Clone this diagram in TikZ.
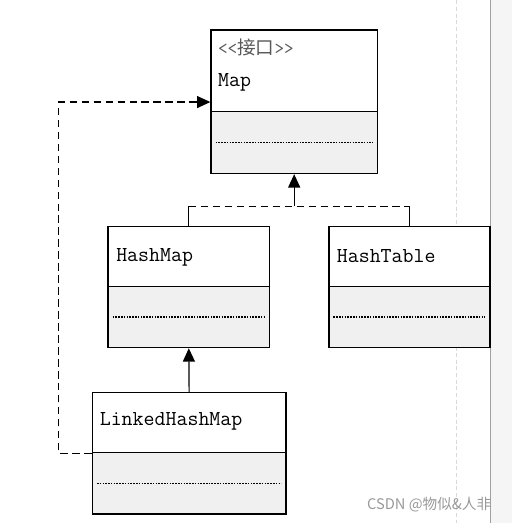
\documentclass[tikz,border=0pt]{standalone}
\usepackage{fontspec}
\newfontfamily\cjkfont{Noto Sans CJK SC}
\usetikzlibrary{arrows.meta,fit}
\definecolor{opsgray}{RGB}{240,240,240}
\definecolor{edgegray}{RGB}{160,160,160}
\tikzset{every picture/.style={line width=0.75pt}}
\tikzset{
  classbox/.style={draw, line width=1.1pt, inner sep=0pt, fill=white},
  opsbox/.style={classbox, fill=opsgray},
  opsline/.style={dash pattern={on 1.2pt off 0.9pt}, line width=0.9pt},
  classname/.style={anchor=west, inner sep=0.75pt, font=\ttfamily\fontsize{16}{18}\selectfont},
  stereo/.style={anchor=west, inner sep=0.75pt, text=black!65, font=\ttfamily\fontsize{14}{16}\selectfont},
  realize/.style={dash pattern={on 5.5pt off 3.5pt}, line width=0.9pt},
  inherit/.style={line width=0.9pt, -{Triangle[width=9pt,length=10pt]}},
}

\begin{document}
\begin{tikzpicture}[x=0.75pt,y=0.75pt,yscale=-1,xscale=1]
\path (0,0) rectangle (513,523); %diagram size

%Page edge
\fill [color=black!4] (491.5,0) rectangle (513,523);
\draw [color=edgegray] (491.5,0) -- (491.5,523);
\draw [color=black!15, line width=0.5pt, dash pattern={on 3pt off 2pt}] (457,0) -- (457,523);

%Class: Map
\node [classbox, fit={(211.5,29.5) (378,111)}] (map) {};
\node [opsbox, fit={(211.5,111) (378,173.3)}] (mapops) {};
%Class: HashMap
\node [classbox, fit={(108.3,226.5) (270,286.5)}] (hashmap) {};
\node [opsbox, fit={(108.3,286.5) (270,347.7)}] (hashmapops) {};
%Class: HashTable
\node [classbox, fit={(329.5,226.5) (491,286.5)}] (hashtable) {};
\node [opsbox, fit={(329.5,286.5) (491,347.7)}] (hashtableops) {};
%Class: LinkedHashMap
\node [classbox, fit={(92.5,393) (286.5,453)}] (lhm) {};
\node [opsbox, fit={(92.5,453) (286.5,514.3)}] (lhmops) {};

%Dotted lines
\foreach \ops in {mapops,hashmapops,hashtableops,lhmops}
  \draw [opsline] ([xshift=4pt]\ops.west) -- ([xshift=-4pt]\ops.east);

% Text Node
\node [stereo] (mapstereo) at (217,47) {<<{\cjkfont 接口}>>};
% Text Node
\node [classname] (mapname) at (217,82) {Map};
% Text Node
\node [classname] (hashmapname) at (115,257) {HashMap};
% Text Node
\node [classname] (hashtablename) at (336,256) {HashTable};
% Text Node
\node [classname] (lhmname) at (98.5,422) {LinkedHashMap};

%Straight Lines
\draw [line width=0.9pt] (hashmap.north) -- ++(0,-19.5) coordinate (hmup);
\draw [line width=0.9pt] (hashtable.north) -- ++(0,-19.5) coordinate (htup);
\draw [realize] (hmup) -- (htup);
\draw [inherit] (mapops.south |- hmup) -- (mapops.south);
\draw [inherit] (lhm.north) -- (hashmapops.south);
\path (map.south west) ++(0,-10) coordinate (mapin);
\draw [realize, inherit] (lhm.south west) -- ++(-33,0) |- (mapin);

% Text Node
\node [text=black!40, font=\cjkfont\fontsize{11}{13}\selectfont] (mark) at (430,505) {CSDN @物似\&人非};

\end{tikzpicture}
\end{document}
